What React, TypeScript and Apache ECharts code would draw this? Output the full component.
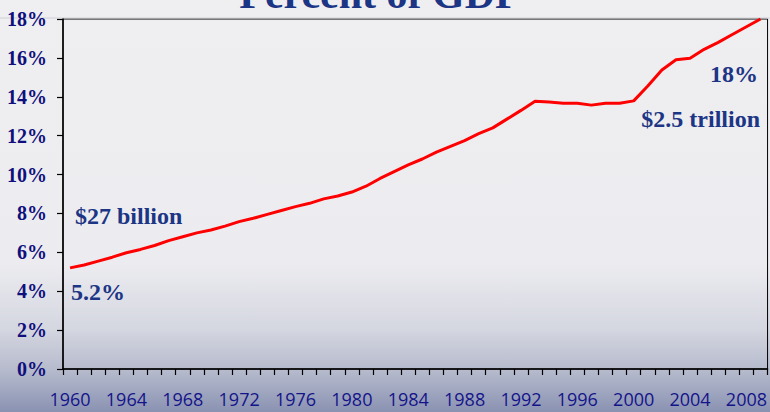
import React, { useEffect, useRef } from "react";
import * as echarts from "echarts";

const years: string[] = [];
for (let y = 1960; y <= 2009; y++) years.push(String(y));

const percentOfGDP: number[] = [
  5.2, 5.35, 5.55, 5.75, 5.98, 6.15, 6.35, 6.6, 6.8, 7.0,
  7.15, 7.35, 7.58, 7.75, 7.95, 8.15, 8.35, 8.52, 8.75, 8.9,
  9.1, 9.4, 9.8, 10.15, 10.5, 10.8, 11.15, 11.45, 11.75, 12.1,
  12.4, 12.85, 13.3, 13.77, 13.73, 13.67, 13.67, 13.57, 13.67, 13.67,
  13.79, 14.55, 15.38, 15.9, 15.98, 16.44, 16.8, 17.2, 17.6, 18.0,
];

const yTicks = { min: 0, max: 18, interval: 2 };
const titleText = "Percent of GDP";
const annotations = ["$27 billion", "5.2%", "18%", "$2.5 trillion"];

export default function App() {
  const ref = useRef<HTMLDivElement>(null);
  useEffect(() => {
    if (!ref.current) return;
    const chart = echarts.init(ref.current, undefined, { renderer: "svg" });
    const annColor = "#1c3584";
    const annFont = "'Liberation Serif', 'Times New Roman', serif";
    chart.setOption({
      animation: false,
      backgroundColor: new echarts.graphic.LinearGradient(0, 0, 0, 1, [
        { offset: 0, color: "#efeff1" },
        { offset: 0.64, color: "#ececf0" },
        { offset: 0.8, color: "#d4d6e0" },
        { offset: 0.9, color: "#b5bacc" },
        { offset: 1, color: "#8a92b2" },
      ]),
      grid: {
        left: 63,
        right: 2,
        top: 19,
        bottom: 43,
        show: true,
        borderColor: "#000",
        borderWidth: 1,
        backgroundColor: "transparent",
      },
      xAxis: {
        type: "category",
        data: years,
        boundaryGap: true,
        axisLine: { show: true, lineStyle: { color: "#000", width: 1.5 } },
        axisTick: { show: true, interval: 0, length: 6, lineStyle: { color: "#000", width: 1.2 } },
        axisLabel: {
          interval: 3,
          margin: 21,
          color: "#14148a",
          fontFamily: "'Open Sans', sans-serif",
          fontSize: 18,
        },
        splitLine: { show: false },
      },
      yAxis: {
        type: "value",
        min: yTicks.min,
        max: yTicks.max,
        interval: yTicks.interval,
        axisLine: { show: true, lineStyle: { color: "#000", width: 1.5 } },
        axisTick: { show: true, length: 6, lineStyle: { color: "#000", width: 1.2 } },
        axisLabel: {
          formatter: "{value}%",
          margin: 16,
          color: "#10107c",
          fontFamily: annFont,
          fontWeight: "bold",
          fontSize: 20,
        },
        splitLine: { show: false },
      },
      series: [
        {
          type: "line",
          data: percentOfGDP,
          showSymbol: false,
          symbol: "none",
          lineStyle: { color: "#ff0000", width: 3 },
        },
      ],
      graphic: [
        {
          type: "line",
          shape: { x1: 0, y1: 18, x2: 770, y2: 18 },
          style: { stroke: "#cfd0d6", lineWidth: 1 },
          z: 0,
        },
        {
          type: "text",
          x: 380,
          y: -6,
          style: {
            text: titleText,
            fill: "#1c3584",
            font: `bold 42px ${annFont}`,
            align: "center",
            verticalAlign: "middle",
          },
        },
        {
          type: "text",
          x: 75,
          y: 216,
          style: { text: annotations[0], fill: annColor, font: `bold 24px ${annFont}`, align: "left", verticalAlign: "middle" },
        },
        {
          type: "text",
          x: 71,
          y: 292,
          style: { text: annotations[1], fill: annColor, font: `bold 24px ${annFont}`, align: "left", verticalAlign: "middle" },
        },
        {
          type: "text",
          x: 758,
          y: 74,
          style: { text: annotations[2], fill: annColor, font: `bold 24px ${annFont}`, align: "right", verticalAlign: "middle" },
        },
        {
          type: "text",
          x: 760,
          y: 119,
          style: { text: annotations[3], fill: annColor, font: `bold 24px ${annFont}`, align: "right", verticalAlign: "middle" },
        },
      ],
    });
    return () => chart.dispose();
  }, []);
  return (
    <div
      ref={ref}
      style={{ position: "fixed", left: 0, top: 0, width: 770, height: 412 }}
    />
  );
}
